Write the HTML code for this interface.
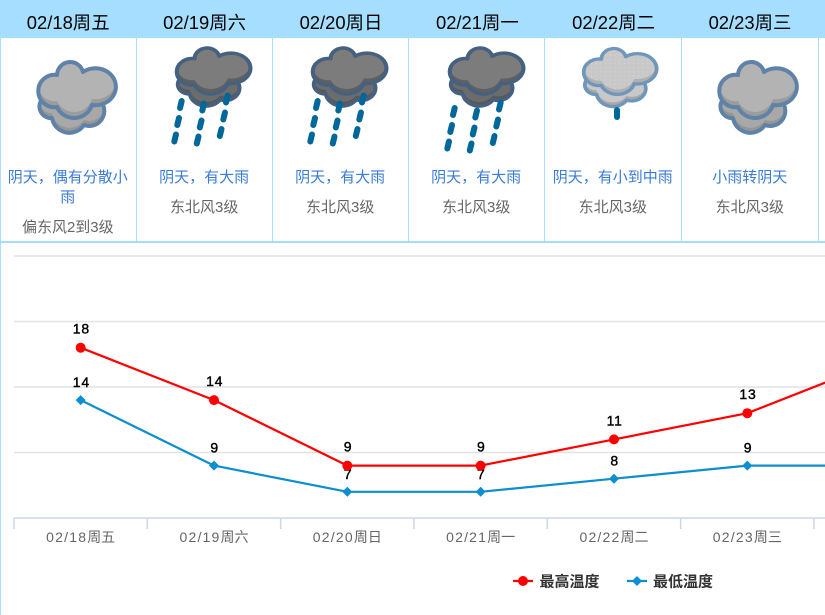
<!DOCTYPE html>
<html lang="zh">
<head>
<meta charset="utf-8">
<title>天气预报</title>
<style>
html,body{margin:0;padding:0;background:#fff;width:825px;height:615px;overflow:hidden;font-family:"Liberation Sans","Noto Sans CJK SC",sans-serif}
#forecast{position:absolute;left:0;top:0;width:825px;height:243px;overflow:hidden}
#hdr{position:absolute;left:0;top:0;width:825px;height:38px;background:#a6deff}
.h{position:absolute;top:0;width:136.4px;height:38px;line-height:45px;text-align:center;font-size:18.4px;color:#000}
.c{position:absolute;top:38px;width:136.6px;height:203px;box-sizing:border-box;border-right:1px solid #a6deff}
.d{position:absolute;left:6px;right:6px;top:130px;line-height:20px;font-size:15px;color:#3a7bd6;text-align:center}
.w{font-size:15px;color:#666;line-height:20px;text-align:center;margin-top:10px}
#band{position:absolute;left:0;top:241px;width:825px;height:2px;background:#a6deff}
#leftb{position:absolute;left:0;top:38px;width:1px;height:577px;background:#a6deff}
#icons{position:absolute;left:0;top:0}
#chart{position:absolute;left:0;top:0}
</style>
</head>
<body>
<div id="forecast">
  <div id="hdr"></div>
  <div class="h" style="left:0">02/18周五</div>
  <div class="h" style="left:136.4px">02/19周六</div>
  <div class="h" style="left:272.8px">02/20周日</div>
  <div class="h" style="left:409.2px">02/21周一</div>
  <div class="h" style="left:545.4px">02/22周二</div>
  <div class="h" style="left:681.8px">02/23周三</div>
  <div class="c" style="left:0"><div class="d"><div>阴天，偶有分散小雨</div><div class="w">偏东风2到3级</div></div></div>
  <div class="c" style="left:136.4px"><div class="d"><div>阴天，有大雨</div><div class="w">东北风3级</div></div></div>
  <div class="c" style="left:272.4px"><div class="d"><div>阴天，有大雨</div><div class="w">东北风3级</div></div></div>
  <div class="c" style="left:408.4px"><div class="d"><div>阴天，有大雨</div><div class="w">东北风3级</div></div></div>
  <div class="c" style="left:545px"><div class="d"><div>阴天，有小到中雨</div><div class="w">东北风3级</div></div></div>
  <div class="c" style="left:682px"><div class="d"><div>小雨转阴天</div><div class="w">东北风3级</div></div></div>
  <div id="band"></div>
</div>
<div id="leftb"></div>

<svg id="icons" width="825" height="243" viewBox="0 0 825 243">
  <defs>
    <path id="front" d="M57,75 A13.2,13.2 0 0 1 83,72 A20.5,18.5 0 1 1 92,105 A18.8,18.8 0 0 1 57,107 A16.2,16.2 0 1 1 57,75 Z"/>
    <path id="back" d="M46,96 A11.6,11.6 0 0 0 52,118 A17.6,17.6 0 0 0 84,125 A15,15 0 0 0 102,103 L70,90 Z"/>
    <clipPath id="frontClip"><use href="#front"/></clipPath>
    <clipPath id="backClip"><use href="#back"/></clipPath>
    <g id="rainset" fill="none" stroke="#00679b" stroke-width="6" stroke-linecap="round">
      <path d="M181.700,101 L180,108"/><path d="M179,118 L177.300,125"/><path d="M176,134.500 L174.300,141.500"/>
      <path d="M204,103.500 L202.300,110.500"/><path d="M201.500,120.500 L199.800,127.500"/><path d="M198.500,136.500 L196.800,143.500"/>
      <path d="M227.700,95.500 L226,102.500"/><path d="M225,112.500 L223.300,119.500"/><path d="M221.500,129 L219.800,136"/>
    </g>
    <g id="cloudA">
      <use href="#back" fill="#969696"/>
      <g clip-path="url(#backClip)"><use href="#back" y="-5" fill="#a8a8a8"/></g>
      <use href="#back" fill="none" stroke="#5f82a8" stroke-width="4" stroke-linejoin="round"/>
      <use href="#front" fill="#9c9c9c"/>
      <g clip-path="url(#frontClip)"><use href="#front" y="-6" fill="#b3b3b3"/></g>
      <use href="#front" fill="none" stroke="#5f82a8" stroke-width="4" stroke-linejoin="round"/>
    </g>
    <g id="cloudB" transform="translate(176,48) scale(.95,.82) translate(-37.5,-62)">
      <use href="#back" fill="#585858"/>
      <g clip-path="url(#backClip)"><use href="#back" y="-5" fill="#6c6c6c"/></g>
      <use href="#back" fill="none" stroke="#46617f" stroke-width="4.300" stroke-linejoin="round"/>
      <use href="#front" fill="#606060"/>
      <g clip-path="url(#frontClip)"><use href="#front" y="-6" fill="#7c7c7c"/></g>
      <use href="#front" fill="none" stroke="#46617f" stroke-width="4.300" stroke-linejoin="round"/>
    </g>
    <pattern id="dots" width="5" height="5" patternUnits="userSpaceOnUse"><rect width="5" height="5" fill="#c8c8c8"/><circle cx="1.500" cy="1.500" r=".6" fill="#dcdcdc"/></pattern>
  </defs>
  <use href="#cloudA"/>
  <g><use href="#cloudB"/><use href="#rainset"/></g>
  <g transform="translate(136,0)"><use href="#cloudB"/><use href="#rainset"/></g>
  <g transform="translate(273,0)"><use href="#cloudB"/><use href="#rainset" y="7"/></g>
  <g>
    <g transform="translate(583,48.500) scale(.94,.82) translate(-37.5,-62)">
      <use href="#back" fill="#a8a8a8"/>
      <g clip-path="url(#backClip)"><use href="#back" y="-5" fill="#c8c8c8"/></g>
      <use href="#back" fill="none" stroke="#6f96bb" stroke-width="4" stroke-linejoin="round"/>
      <use href="#front" fill="#b0b0b0"/>
      <g clip-path="url(#frontClip)"><use href="#front" y="-6" fill="url(#dots)"/></g>
      <use href="#front" fill="none" stroke="#6f96bb" stroke-width="4" stroke-linejoin="round"/>
    </g>
    <path d="M617,110 L617,117" stroke="#00679b" stroke-width="6" stroke-linecap="round" fill="none"/>
  </g>
  <use href="#cloudA" x="681"/>
</svg>

<svg id="chart" width="825" height="615" viewBox="0 0 825 615" style="top:0">
</svg>

<script>
var categories = ["02/18周五","02/19周六","02/20周日","02/21周一","02/22周二","02/23周三","02/24周四"];
var highTemps = [18,14,9,9,11,13,17];
var lowTemps = [14,9,7,7,8,9,9];
var yTicks = [5,10,15,20,25];
var highSeriesName = "最高温度";
var lowSeriesName = "最低温度";

var NS = "http://www.w3.org/2000/svg";
var svg = document.getElementById("chart");
var plotLeft = 14, bandWidth = 133.33, baseY = 518, yMin = 5, pxPerUnit = 13.1;
function xBand(i){ return plotLeft + bandWidth * i; }
function xCenter(i){ return xBand(i) + bandWidth / 2; }
function yScale(v){ return baseY - (v - yMin) * pxPerUnit; }
function make(tag, attrs, text){
  var el = document.createElementNS(NS, tag);
  for (var k in attrs) el.setAttribute(k, attrs[k]);
  if (text !== undefined) el.textContent = text;
  svg.appendChild(el);
  return el;
}
var FONT = '"Liberation Sans","Noto Sans CJK SC",sans-serif';

yTicks.forEach(function(t){
  if (t === yMin) return;
  var g = make("line", {x1:plotLeft, x2:825, y1:yScale(t), y2:yScale(t), stroke:"#e2e2e2", "stroke-width":1.6});
  
  
});
var axis = make("line", {x1:plotLeft, x2:825, y1:baseY, y2:baseY, stroke:"#c9d7e6", "stroke-width":1.500});



categories.forEach(function(c, i){
  var tick = make("line", {x1:xBand(i), x2:xBand(i), y1:baseY, y2:baseY+11, stroke:"#c9d7e6", "stroke-width":1.500});
  
  
  var label = make("text", {x:xCenter(i), y:542, "text-anchor":"middle", "font-size":14, fill:"#666", "font-family":FONT});
  
  
  var a = document.createElementNS(NS, "tspan");
  a.setAttribute("letter-spacing", "1.2");
  a.textContent = c.slice(0,5);
  var b = document.createElementNS(NS, "tspan");
  b.textContent = c.slice(5);
  label.appendChild(a);
  label.appendChild(b);
});

function linePath(vals){
  return vals.map(function(v,i){ return (i ? "L" : "M") + xCenter(i) + "," + yScale(v); }).join(" ");
}
function diamond(cx, cy, r){
  return "M"+cx+","+(cy-r)+" L"+(cx+r)+","+cy+" L"+cx+","+(cy+r)+" L"+(cx-r)+","+cy+" Z";
}
var lowLine = make("path", {d:linePath(lowTemps), fill:"none", stroke:"#0d8ecf", "stroke-width":2.200, "stroke-linejoin":"round"});


var highLine = make("path", {d:linePath(highTemps), fill:"none", stroke:"#ff0000", "stroke-width":2.200, "stroke-linejoin":"round"});



var valueStyle = {"text-anchor":"middle", "font-size":14, fill:"#000", stroke:"#000", "stroke-width":0.4, "font-family":FONT, "letter-spacing":"0.8"};
function valueAttrs(x, y){
  var o = {x:x + 0.7, y:y};
  for (var k in valueStyle) o[k] = valueStyle[k];
  return o;
}
lowTemps.forEach(function(v,i){
  var m = make("path", {d:diamond(xCenter(i), yScale(v), 5), fill:"#0d8ecf"});
  
  
  var t = make("text", valueAttrs(xCenter(i), yScale(v)-13), v);
  
  
});
highTemps.forEach(function(v,i){
  var m = make("circle", {cx:xCenter(i), cy:yScale(v), r:5, fill:"#ff0000"});
  
  
  var t = make("text", valueAttrs(xCenter(i), yScale(v)-14), v);
  
  
});

var lg1 = make("line", {x1:513, x2:533, y1:581, y2:581, stroke:"#ff0000", "stroke-width":2.200});


var lg1m = make("circle", {cx:523, cy:581, r:5, fill:"#ff0000"});


var lg1t = make("text", {x:539.500, y:586.500, "font-size":15, "font-weight":"700", fill:"#333", "font-family":FONT}, highSeriesName);


var lg2 = make("line", {x1:627, x2:647, y1:581, y2:581, stroke:"#0d8ecf", "stroke-width":2.200});


var lg2m = make("path", {d:diamond(637, 581, 5), fill:"#0d8ecf"});


var lg2t = make("text", {x:653, y:586.500, "font-size":15, "font-weight":"700", fill:"#333", "font-family":FONT}, lowSeriesName);


</script>
</body>
</html>
